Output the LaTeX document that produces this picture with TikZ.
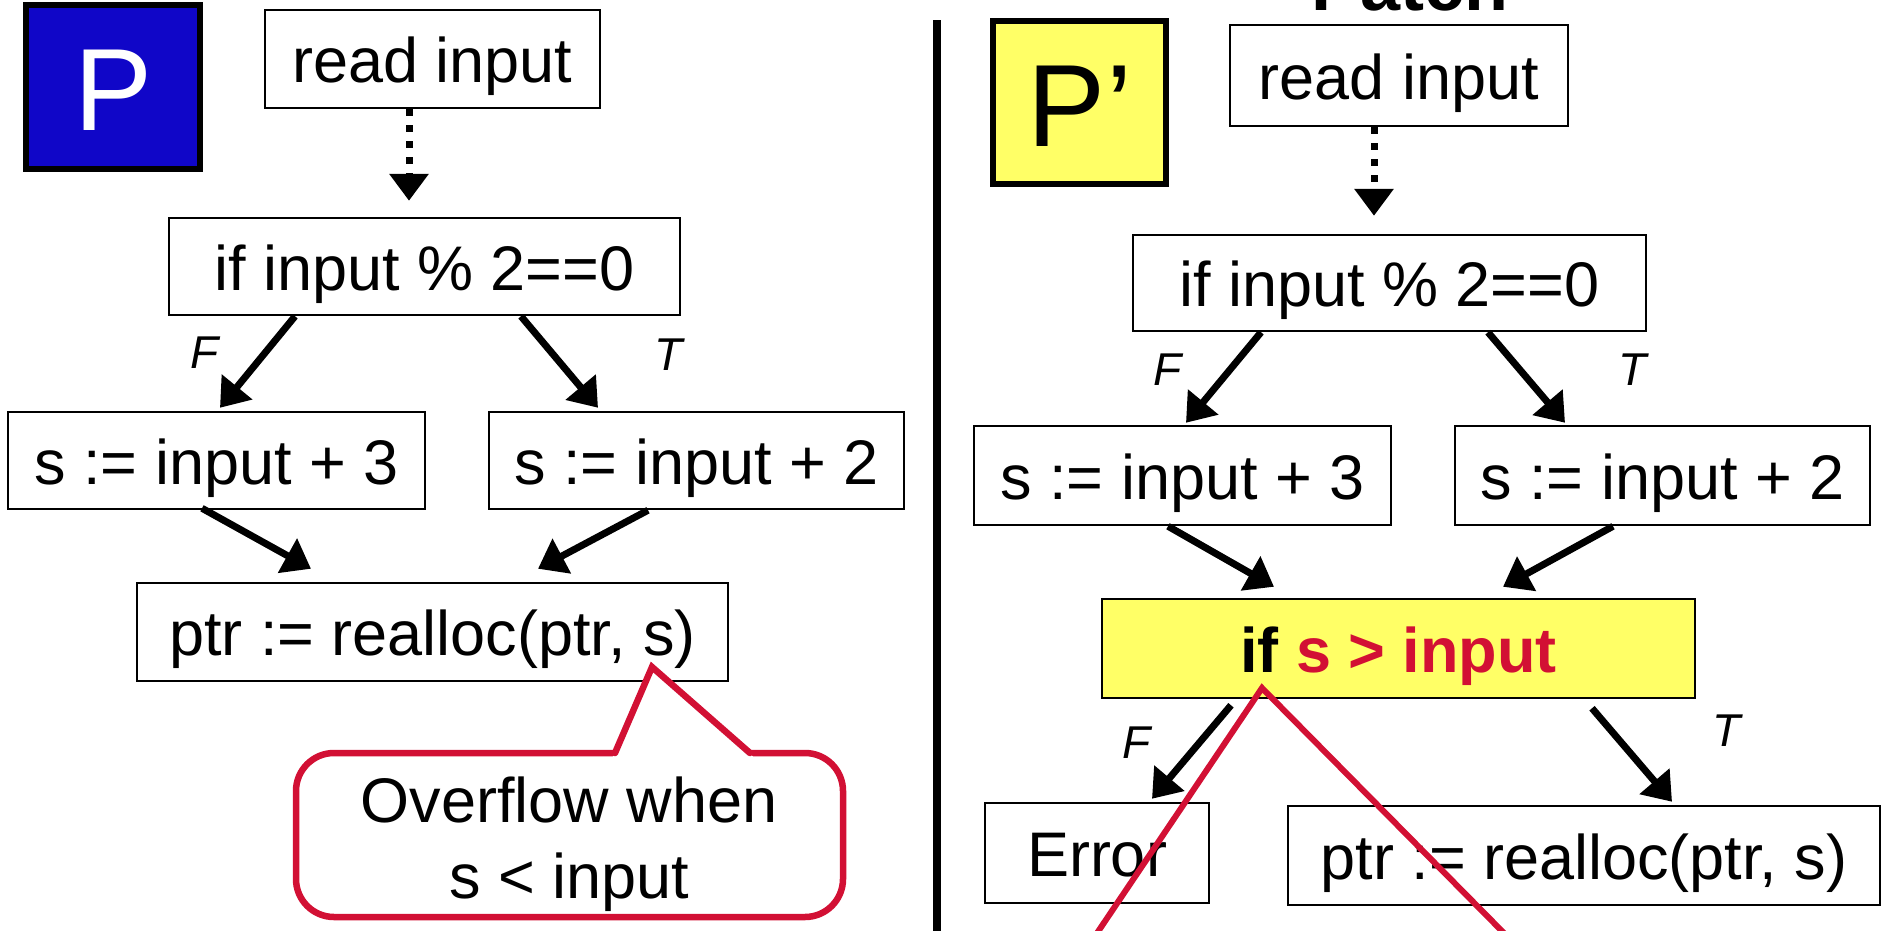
\documentclass[tikz,border=0pt]{standalone}
\usepackage{fontspec}
\setmainfont{Liberation Sans}
\usetikzlibrary{arrows.meta,calc}
\definecolor{pblue}{RGB}{16,6,200}
\definecolor{pyellow}{RGB}{255,255,102}
\definecolor{alert}{RGB}{210,16,52}
\tikzset{
  stmt/.style={draw=black, line width=2.5pt, inner sep=0pt, fill=white,
    font=\fontsize{63pt}{76pt}\selectfont, text height=47pt, text depth=0pt},
  flow/.style={line width=7pt, -{Triangle[length=27pt,width=38pt]}},
  dotflow/.style={flow, dash pattern=on 7pt off 9pt},
  branch/.style={inner sep=0pt, font=\fontsize{46pt}{55pt}\selectfont\itshape},
  progtag/.style={draw=black, line width=6pt},
  bubble/.style={draw=alert, line width=6.5pt, fill=white},
  bubbletext/.style={anchor=base, inner sep=0pt, font=\fontsize{63pt}{76pt}\selectfont},
  pointer/.style={draw=alert, line width=6pt}
}
\begin{document}
\begin{tikzpicture}[x=1pt,y=-1pt]
\useasboundingbox (0,0) rectangle (1888,930);
\clip (0,0) rectangle (1888,930);

% ---------- original program P ----------
\draw[progtag, fill=pblue] (26,5) rectangle (200,169);
\node[anchor=base, inner sep=0pt, text=white, font=\fontsize{117pt}{140pt}\selectfont] (pname) at (114,130) {P};

\node[stmt, minimum width=335pt, minimum height=98pt] (rdL) at (432.5,59) {read input};
\node[stmt, minimum width=511pt, minimum height=97pt] (ifL) at (424.5,266.5) {if input \% 2==0};
\node[stmt, minimum width=417pt, minimum height=97pt] (s3L) at (216.5,460.5) {s := input + 3};
\node[stmt, minimum width=415pt, minimum height=97pt] (s2L) at (696.5,460.5) {s := input + 2};
\node[stmt, minimum width=591pt, minimum height=98pt] (ptrL) at (432.5,632) {ptr := realloc(ptr, s)};

\draw[dotflow] ([xshift=-23.5pt]rdL.south) -- ([xshift=-15.5pt,yshift=16pt]ifL.north);
\draw[flow] ([xshift=-129.5pt]ifL.south) -- ([xshift=3.5pt,yshift=3pt]s3L.north);
\draw[flow] ([xshift=96.5pt]ifL.south) -- ([xshift=-98.5pt,yshift=3pt]s2L.north);
\draw[flow] ([xshift=-14.5pt,yshift=2pt]s3L.south) -- ([xshift=-121.5pt,yshift=13pt]ptrL.north);
\draw[flow] ([xshift=-48.5pt]s2L.south) -- ([xshift=105.5pt,yshift=13pt]ptrL.north);
\node[branch] (fL) at (205,353) {F};
\node[branch] (tL) at (669,355) {T};

% warning bubble
\draw[bubble, rounded corners=38pt] (296,753) rectangle (843,917);
\coordinate (warntip) at (652,667);
\fill[white] (612,758) -- (615,753) -- (warntip) -- (750,753) -- (754,758) -- cycle;
\draw[pointer, line width=6.5pt, line cap=round, line join=miter] (615,753) -- (warntip) -- (750,753);
\node[bubbletext] (warn1) at (569,822) {Overflow when};
\node[bubbletext] (warn2) at (569,898) {s < input};

% divider
\draw[line width=8pt] (937,20) -- (937,935);

% ---------- patched program P' ----------
\node[anchor=base, inner sep=0pt, font=\fontsize{72pt}{86pt}\selectfont\bfseries] (patch) at (1410,10) {Patch};
\draw[progtag, fill=pyellow] (993,21) rectangle (1166,184);
\node[anchor=base, inner sep=0pt, font=\fontsize{117pt}{140pt}\selectfont] (pname2) at (1080,146) {P’};

\node[stmt, minimum width=338pt, minimum height=101pt] (rdR) at (1399,75.5) {read input};
\node[stmt, minimum width=513pt, minimum height=96pt] (ifR) at (1389.5,283) {if input \% 2==0};
\node[stmt, minimum width=417pt, minimum height=99pt] (s3R) at (1182.5,475.5) {s := input + 3};
\node[stmt, minimum width=415pt, minimum height=99pt] (s2R) at (1662.5,475.5) {s := input + 2};
\node[stmt, fill=pyellow, minimum width=593pt, minimum height=99pt, font=\fontsize{63pt}{76pt}\selectfont\bfseries] (chk) at (1398.5,648.5) {if \textcolor{alert}{s > input}};
\node[stmt, minimum width=224pt, minimum height=100pt] (err) at (1097,853) {Error};
\node[stmt, minimum width=592pt, minimum height=99pt] (ptrR) at (1584,855.5) {ptr := realloc(ptr, s)};

\draw[dotflow] ([xshift=-25pt]rdR.south) -- ([xshift=-15.5pt,yshift=18pt]ifR.north);
\draw[flow] ([xshift=-128.5pt]ifR.south) -- ([xshift=3.5pt,yshift=2pt]s3R.north);
\draw[flow] ([xshift=98.5pt]ifR.south) -- ([xshift=-97.5pt,yshift=2pt]s2R.north);
\draw[flow] ([xshift=-14.5pt]s3R.south) -- ([xshift=-124.5pt,yshift=11pt]chk.north);
\draw[flow] ([xshift=-49.5pt]s2R.south) -- ([xshift=104.5pt,yshift=11pt]chk.north);
\draw[flow] ([xshift=-167.5pt,yshift=-6pt]chk.south) -- ([xshift=55pt,yshift=3pt]err.north);
\draw[flow] ([xshift=193.5pt,yshift=-9pt]chk.south) -- ([xshift=88pt,yshift=3pt]ptrR.north);
\node[branch] (fR) at (1168,370) {F};
\node[branch] (tR) at (1633,370) {T};
\node[branch] (fC) at (1137,743) {F};
\node[branch] (tC) at (1727,731) {T};

% pointer of a note placed below the visible area
\coordinate (checktip) at (1262,688);
\coordinate (noteleft) at (1052,1000);
\coordinate (noteright) at (1570,1000);
\draw[pointer, line join=miter] (noteleft) -- (checktip) -- (noteright);
\end{tikzpicture}
\end{document}
